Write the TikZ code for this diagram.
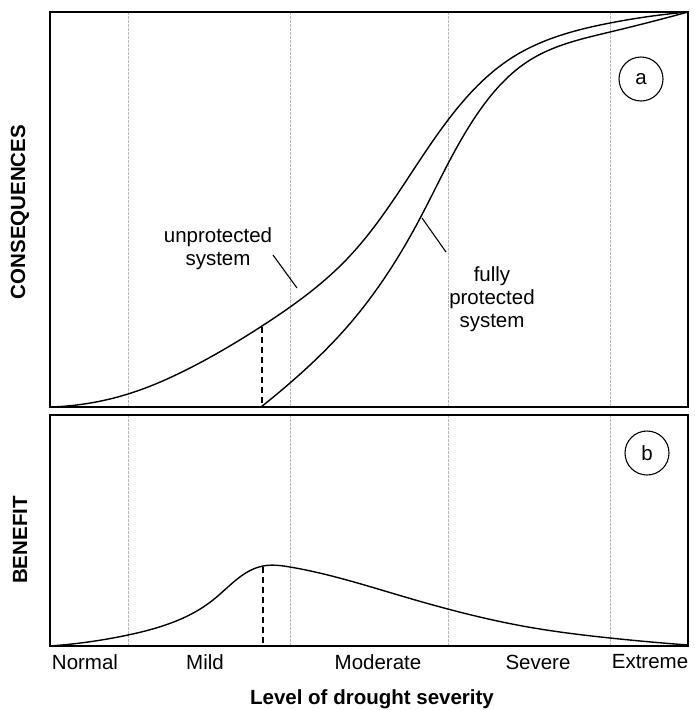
\documentclass[tikz,border=0pt]{standalone}
\usepackage{fontspec}
\setmainfont{Liberation Sans}
\usetikzlibrary{hobby}
\begin{document}
\begin{tikzpicture}[x=1pt,y=-1pt,
  panel/.style={line width=1.7pt},
  grid/.style={gray!55,line width=0.5pt,dash pattern=on 2.5pt off 1.5pt},
  curve/.style={line width=1.4pt,line join=round},
  leader/.style={line width=1.1pt},
  drop/.style={line width=1.2pt,dash pattern=on 6pt off 4pt},
  lbl/.style={font=\fontsize{20.5pt}{23pt}\selectfont,inner sep=0pt,align=center},
  blbl/.style={font=\fontsize{20.5pt}{23pt}\selectfont\bfseries,inner sep=0pt},
  tag/.style={circle,draw,line width=1.1pt,minimum size=44pt,inner sep=0pt,font=\fontsize{20.5pt}{23pt}\selectfont}]
\useasboundingbox (0,0) rectangle (695,710);
% grid lines
\foreach \gx in {128,290,448,610}{
  \draw[grid] (\gx,12) -- (\gx,407);
  \draw[grid] (\gx,415) -- (\gx,646);
}
% panels
\draw[panel] (50,12) rectangle (688,407);
\draw[panel] (50,415) rectangle (688,646);
% top curves
\draw[curve] (50,407) to[curve through={(128,394) (190,368) (262,326) (347,259) (448,120) (513,57) (610,23)}] (688,12);
\draw[curve] (261,407) to[curve through={(290,383) (347,327) (417,224) (480,110) (530,60) (610,32)}] (688,12);
\draw[drop] (262,327) -- (262,407);
% leaders
\coordinate (u1) at (273,255); \coordinate (u2) at (297,288);
\coordinate (p1) at (422,218); \coordinate (p2) at (446,252);
\draw[leader] (u1) -- (u2);
\draw[leader] (p1) -- (p2);
\node[lbl] (unp) at (218,249) {unprotected\\system};
\node[lbl] (fp) at (492,299) {fully\\protected\\system};
\node[tag] (ta) at (641,79) {a};
% bottom curve
\draw[curve] (50,646) to[curve through={(128,635) (213,600) (263,566) (290,567) (405,597) (528,627) (610,638)}] (688,645);
\draw[drop] (263,567) -- (263,646);
\node[tag] (tb) at (647,453) {b};
% axis labels
\node[blbl,rotate=90] (yc) at (20,212) {CONSEQUENCES};
\node[blbl,rotate=90] (yb) at (20,540) {BENEFIT};
\node[lbl] (n1) at (85,662) {Normal};
\node[lbl] (n2) at (205,662) {Mild};
\node[lbl] (n3) at (378,662) {Moderate};
\node[lbl] (n4) at (538,662) {Severe};
\node[lbl] (n5) at (650,662) {Extreme};
\node[blbl] (xl) at (372,699) {Level of drought severity};
\end{tikzpicture}
\end{document}
